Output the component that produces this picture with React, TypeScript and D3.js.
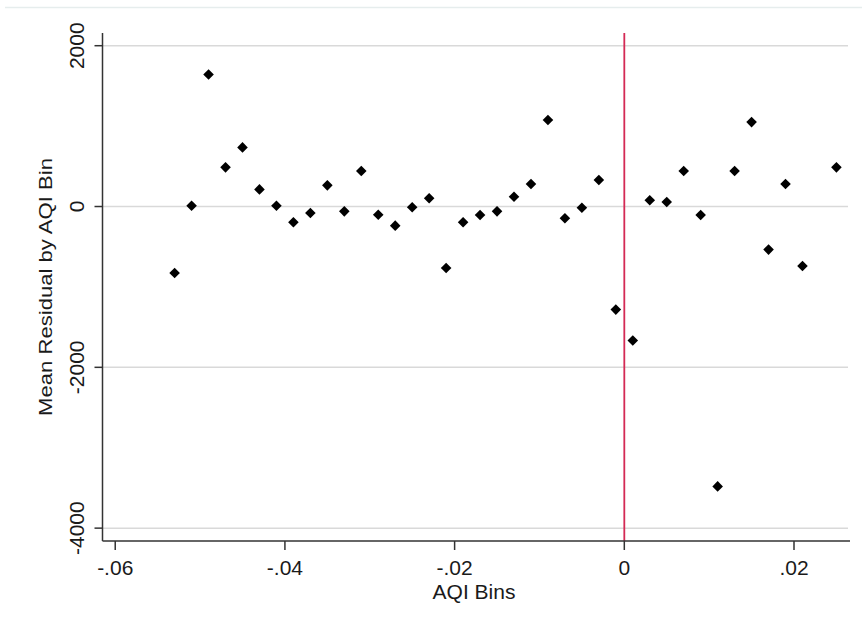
import React from "react";
import * as d3 from "d3";

const bins = [
  -0.053, -0.051, -0.049, -0.047, -0.045, -0.043, -0.041, -0.039, -0.037, -0.035,
  -0.033, -0.031, -0.029, -0.027, -0.025, -0.023, -0.021, -0.019, -0.017, -0.015,
  -0.013, -0.011, -0.009, -0.007, -0.005, -0.003, -0.001, 0.001, 0.003, 0.005,
  0.007, 0.009, 0.011, 0.013, 0.015, 0.017, 0.019, 0.021, 0.025,
];
const residuals = [
  -826, 10, 1642, 487, 735, 213, 10, -196, -81, 263,
  -60, 441, -102, -238, -10, 102, -764, -196, -106, -60,
  122, 280, 1075, -147, -15, 329, -1282, -1667, 77, 56,
  441, -106, -3481, 441, 1050, -536, 280, -739, 487,
];
const xTicks = [-0.06, -0.04, -0.02, 0, 0.02];
const xTickLabels = ["-.06", "-.04", "-.02", "0", ".02"];
const yTicks = [2000, 0, -2000, -4000];
const yTickLabels = ["2000", "0", "-2000", "-4000"];
const xTitle = "AQI Bins";
const yTitle = "Mean Residual by AQI Bin";
const cutoff = 0;

export default function App() {
  const W = 862;
  const H = 628;
  const left = 102.5;
  const right = 850;
  const top = 33;
  const bottom = 541;

  const x = d3.scaleLinear().domain([-0.0615, 0.0266]).range([left, right]);
  const y = d3.scaleLinear().domain([-4160, 2158]).range([bottom, top]);
  const diamond = d3.symbol().type(d3.symbolSquare).size(56)();
  const font = "'Liberation Sans', Arial, sans-serif";
  const textColor = "#1a1a1a";

  return (
    <svg
      width={W}
      height={H}
      style={{ position: "absolute", left: 0, top: 0, background: "#fff" }}
      fontFamily={font}
    >
      <rect x={0} y={0} width={W} height={H} fill="#fff" />
      <line x1={5} x2={W} y1={7.5} y2={7.5} stroke="#e6eded" strokeWidth={1.5} />

      {/* gridlines */}
      {yTicks.map((t) => (
        <line key={"g" + t} x1={left} x2={848} y1={y(t)} y2={y(t)} stroke="#d9d9d9" strokeWidth={1.5} />
      ))}

      {/* cutoff line */}
      <line x1={x(cutoff)} x2={x(cutoff)} y1={top} y2={bottom} stroke="#d42a55" strokeWidth={1.8} />

      {/* axes */}
      <line x1={left} x2={left} y1={top} y2={bottom} stroke="#333" strokeWidth={1.5} />
      <line x1={left} x2={right} y1={bottom} y2={bottom} stroke="#333" strokeWidth={1.5} />

      {yTicks.map((t, i) => (
        <g key={"yt" + t}>
          <line x1={left - 8} x2={left} y1={y(t)} y2={y(t)} stroke="#333" strokeWidth={1.5} />
          <text
            transform={`translate(${83.5},${y(t)}) rotate(-90)`}
            textAnchor="middle"
            fontSize={21}
            fill={textColor}
          >
            {yTickLabels[i]}
          </text>
        </g>
      ))}

      {xTicks.map((t, i) => (
        <g key={"xt" + t}>
          <line x1={x(t)} x2={x(t)} y1={bottom} y2={bottom + 9} stroke="#333" strokeWidth={1.5} />
          <text x={x(t)} y={575} textAnchor="middle" fontSize={21} fill={textColor}>
            {xTickLabels[i]}
          </text>
        </g>
      ))}

      <text x={474} y={599} textAnchor="middle" fontSize={21} fill={textColor}>
        {xTitle}
      </text>
      <text
        transform={`translate(${52},${(top + bottom) / 2}) rotate(-90)`}
        textAnchor="middle"
        fontSize={19}
        textLength={258}
        lengthAdjust="spacingAndGlyphs"
        fill={textColor}
      >
        {yTitle}
      </text>

      {/* points */}
      {bins.map((b, i) => (
        <path
          key={"p" + i}
          d={diamond}
          transform={`translate(${x(b)},${y(residuals[i])}) rotate(45)`}
          fill="#000"
        />
      ))}
    </svg>
  );
}
